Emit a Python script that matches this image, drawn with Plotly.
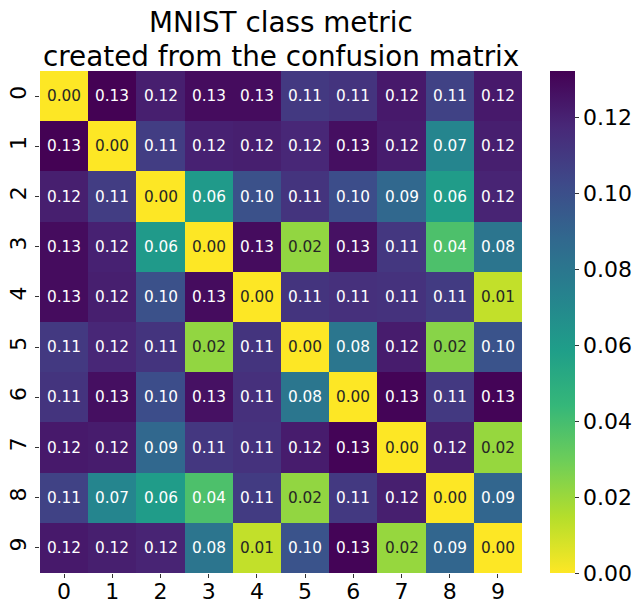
import plotly.graph_objects as go

labels = ["0", "1", "2", "3", "4", "5", "6", "7", "8", "9"]
values = [
    [0.000, 0.132, 0.121, 0.128, 0.128, 0.110, 0.112, 0.123, 0.106, 0.123],
    [0.132, 0.000, 0.108, 0.120, 0.121, 0.118, 0.127, 0.122, 0.072, 0.121],
    [0.121, 0.108, 0.000, 0.061, 0.099, 0.112, 0.101, 0.088, 0.060, 0.119],
    [0.128, 0.120, 0.061, 0.000, 0.128, 0.022, 0.126, 0.111, 0.038, 0.081],
    [0.128, 0.121, 0.099, 0.128, 0.000, 0.112, 0.114, 0.113, 0.109, 0.012],
    [0.110, 0.118, 0.112, 0.022, 0.112, 0.000, 0.080, 0.122, 0.024, 0.098],
    [0.112, 0.127, 0.101, 0.126, 0.114, 0.080, 0.000, 0.131, 0.110, 0.131],
    [0.123, 0.122, 0.088, 0.111, 0.113, 0.122, 0.131, 0.000, 0.121, 0.021],
    [0.106, 0.072, 0.060, 0.038, 0.109, 0.022, 0.110, 0.121, 0.000, 0.089],
    [0.123, 0.121, 0.119, 0.081, 0.012, 0.098, 0.131, 0.021, 0.089, 0.000],
]
cbar_ticks = [0.00, 0.02, 0.04, 0.06, 0.08, 0.10, 0.12]
title_lines = ["MNIST class metric", "created from the confusion matrix"]

zmax = 0.1322
FONT = "DejaVu Sans"

fig = go.Figure(go.Heatmap(
    z=values, x=labels, y=labels,
    colorscale="Viridis", reversescale=True, zmin=0, zmax=zmax,
    colorbar=dict(
        thickness=25, len=1, lenmode="fraction", y=1, yanchor="top",
        x=1.058, xanchor="left", xpad=0, ypad=0, outlinewidth=0,
        tickvals=cbar_ticks, ticktext=[f"{v:.2f}" for v in cbar_ticks],
        ticks="outside", ticklen=4, tickcolor="#333",
        tickfont=dict(size=22, family=FONT, color="black"),
    ),
    hoverinfo="skip",
))

annotations = []
for i, row in enumerate(values):
    for j, v in enumerate(row):
        annotations.append(dict(
            x=labels[j], y=labels[i], text=f"{v:.2f}", showarrow=False,
            font=dict(size=15.3, family=FONT,
                      color="#262626" if v < 0.03 else "white"),
        ))

for k, (line, shift) in enumerate(zip(title_lines, [49, 15])):
    annotations.append(dict(
        xref="paper", yref="paper", x=0.5, y=1, xanchor="center", yanchor="middle",
        yshift=shift, text=line, showarrow=False,
        font=dict(size=27.8, family=FONT, color="black"),
    ))

fig.update_layout(
    width=636, height=600,
    margin=dict(l=40, r=114, t=71, b=27, autoexpand=False),
    paper_bgcolor="white", plot_bgcolor="white",
    annotations=annotations,
    xaxis=dict(
        ticks="outside", ticklen=4, tickcolor="#333", showgrid=False, zeroline=False,
        automargin=False, ticklabelstandoff=-5,
        tickfont=dict(size=22, family=FONT, color="black"),
    ),
    yaxis=dict(
        autorange="reversed", ticks="outside", ticklen=4, tickcolor="#333",
        showgrid=False, zeroline=False, tickangle=-90, automargin=False,
        tickfont=dict(size=22, family=FONT, color="black"),
    ),
)

fig.write_html("out.html", config={"displayModeBar": False},
               post_script="document.body.style.margin='0';")
